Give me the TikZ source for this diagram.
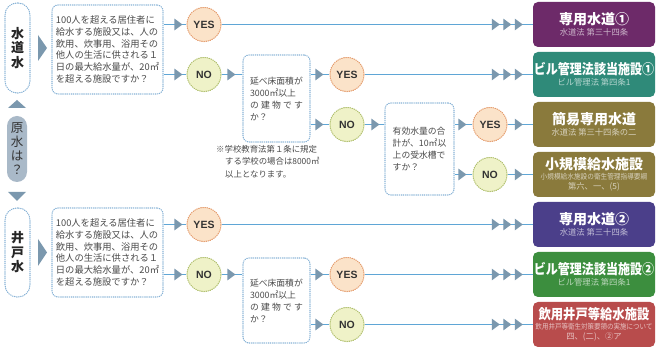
\documentclass[tikz,border=0pt]{standalone}
\usepackage{fontspec}
\setmainfont{Noto Sans CJK JP}
\newfontfamily\latin{Liberation Sans}
\usepackage{graphicx}
\usetikzlibrary{arrows.meta,decorations.markings}
\definecolor{linec}{HTML}{5FA6D6}
\definecolor{mkc}{HTML}{7B98AE}
\definecolor{dotc}{HTML}{86B2D6}
\definecolor{yesf}{HTML}{FBE3C9}
\definecolor{yesd}{HTML}{E49A6A}
\definecolor{nof}{HTML}{EFF2C8}
\definecolor{nod}{HTML}{AEBE6A}
\definecolor{pillc}{HTML}{A9B9C8}
\definecolor{txtc}{HTML}{4A4A4A}
\definecolor{cpur}{HTML}{6D2A69}
\definecolor{cteal}{HTML}{2F8A79}
\definecolor{colive}{HTML}{8A7A3C}
\definecolor{cindigo}{HTML}{4B3F8A}
\definecolor{cgreen}{HTML}{3C8E3E}
\definecolor{cred}{HTML}{B84C4C}
\newcommand{\tipmk}{\arrow[mkc]{Triangle[length=8pt,width=11.5pt]}}
\tikzset{
 conn/.style={draw=linec, line width=1.1pt},
 mk/.style={postaction={decorate,decoration={markings,mark=at position #1 with {\tipmk}}}},
 mkthree/.style={postaction={decorate,decoration={markings,
   mark=at position -10pt with {\tipmk},
   mark=at position -21.5pt with {\tipmk},
   mark=at position -33pt with {\tipmk}}}},
 dotb/.style={line width=1.1pt, dash pattern=on 0.6pt off 1.5pt, line cap=round},
 qbox/.style={dotb, draw=dotc, rounded corners=6pt, fill=white, text=txtc, align=left, inner sep=0pt},
 yesc/.style={circle, minimum size=34pt, inner sep=0pt, fill=yesf, draw=yesd, dotb,
   font=\latin\bfseries\fontsize{10.5}{12}\selectfont, text=black!80},
 noc/.style={circle, minimum size=34pt, inner sep=0pt, fill=nof, draw=nod, dotb,
   font=\latin\bfseries\fontsize{10.5}{12}\selectfont, text=black!80},
 rbox/.style={fill=#1, rounded corners=5pt, minimum width=122pt, minimum height=45pt, inner sep=0pt, text=white, align=center},
 pill/.style={dotb, draw=dotc, rounded corners=12pt, fill=white, minimum width=25pt, inner sep=0pt, align=center,
   font=\bfseries\fontsize{13}{14.5}\selectfont, text=black!85},
 qtext/.style={font=\fontsize{9.3}{11.8}\selectfont},
 stext/.style={font=\fontsize{8.8}{12}\selectfont},
}
\newcommand{\ttl}[2][1]{{\bfseries\fontsize{14}{15}\selectfont\scalebox{#1}[1]{#2}}}
\newcommand{\sbt}[3][1]{{\fontsize{8.3}{9}\selectfont\color{white!65!#2}\scalebox{#1}[1]{#3}}}
\begin{document}
\begin{tikzpicture}[x=1pt,y=-1pt]
\useasboundingbox (0,0) rectangle (656,347);
\fill[white] (0,0) rectangle (656,347);

% left column
\node[pill, minimum height=90pt] (p1) at (17.5,48) {水\\道\\水};
\fill[mkc] (38,35) -- (47,48) -- (38,61) -- cycle;
\fill[mkc] (8,108) -- (17,100) -- (26,108) -- cycle;
\node[fill=pillc, rounded corners=10pt, minimum width=20pt, minimum height=66pt, inner sep=0pt, align=center,
  font=\fontsize{12.5}{14}\selectfont, text=black!80] (p2) at (17,149) {原\\水\\は\\？};
\fill[mkc] (8,192) -- (17,201) -- (26,192) -- cycle;
\node[pill, minimum height=89pt] (p3) at (17.5,252.5) {井\\戸\\水};
\fill[mkc] (38,239) -- (47,252.5) -- (38,266) -- cycle;

% question boxes
\node[qbox, qtext, minimum width=111pt, minimum height=89pt] (q1) at (107.5,49.5)
 {100人を超える居住者に\\給水する施設又は、人の\\飲用、炊事用、浴用その\\他人の生活に供される１\\日の最大給水量が、20㎡\\を超える施設ですか？};
\node[qbox, stext, minimum width=67pt, minimum height=87pt] (q2) at (276.5,98.5)
 {延べ床面積が\\3000㎡以上\\\makebox[53pt][l]{の\hfill 建\hfill 物\hfill で\hfill す}\\か？};
\node[qbox, stext, minimum width=69pt, minimum height=92pt] (q3) at (419.5,149)
 {有効水量の合\\計が、10㎡以\\上の受水槽で\\すか？};
\node[qbox, qtext, minimum width=111pt, minimum height=89pt] (q4) at (107.5,252.5)
 {100人を超える居住者に\\給水する施設又は、人の\\飲用、炊事用、浴用その\\他人の生活に供される１\\日の最大給水量が、20㎡\\を超える施設ですか？};
\node[qbox, stext, minimum width=67pt, minimum height=85pt] (q5) at (276.5,300.5)
 {延べ床面積が\\3000㎡以上\\\makebox[53pt][l]{の\hfill 建\hfill 物\hfill で\hfill す}\\か？};

% footnote
\node[anchor=north west, align=left, inner sep=0pt, text=txtc, font=\fontsize{8.4}{12.5}\selectfont] (fn) at (216,145)
 {※学校教育法第１条に規定\\\hspace*{9pt}する学校の場合は8000㎡\\\hspace*{9pt}以上となります。};

% circles
\node[yesc] (yes1) at (204,24.5) {YES};
\node[noc]  (no1)  at (204,74.5) {NO};
\node[yesc] (yes2) at (347,74.5) {YES};
\node[noc]  (no2)  at (347,124.5) {NO};
\node[yesc] (yes3) at (490,124.5) {YES};
\node[noc]  (no3)  at (490,174.5) {NO};
\node[yesc] (yes4) at (204,224.5) {YES};
\node[noc]  (no4)  at (204,274.5) {NO};
\node[yesc] (yes5) at (347,274.5) {YES};
\node[noc]  (no5)  at (347,324.5) {NO};

% result boxes
\node[rbox=cpur] (r1) at (594,24.5) {\ttl{専用水道①}\\[-1pt]\sbt{cpur}{水道法\ 第三十四条}};
\node[rbox=cteal] (r2) at (594,74.5) {\ttl[0.86]{ビル管理法該当施設①}\\[-1pt]\sbt{cteal}{ビル管理法\ 第四条1}};
\node[rbox=colive] (r3) at (594,124.5) {\ttl{簡易専用水道}\\[-1pt]\sbt{colive}{水道法\ 第三十四条の二}};
\node[rbox=colive] (r4) at (594,174.5) {\ttl{小規模給水施設}\\[-2pt]\sbt[0.9]{colive}{\fontsize{7.4}{8}\selectfont 小規模給水施設の衛生管理指導要綱}\\[-2pt]\sbt{colive}{第六、一、(5)}};
\node[rbox=cindigo] (r5) at (594,224.5) {\ttl{専用水道②}\\[-1pt]\sbt{cindigo}{水道法\ 第三十四条}};
\node[rbox=cgreen] (r6) at (594,274.5) {\ttl[0.86]{ビル管理法該当施設②}\\[-1pt]\sbt{cgreen}{ビル管理法\ 第四条1}};
\node[rbox=cred] (r7) at (594,324.5) {\ttl[0.88]{飲用井戸等給水施設}\\[-2pt]\sbt[0.88]{cred}{\fontsize{7.4}{8}\selectfont 飲用井戸等衛生対策要領の実施について}\\[-2pt]\sbt{cred}{四、(二)、②ア}};

% connectors
\draw[conn, mk=-4pt] (q1.east |- yes1) -- (yes1.west);
\draw[conn, mk=-4pt] (q1.east |- no1) -- (no1.west);
\draw[conn, mkthree] (yes1.east) -- (yes1 -| r1.west);
\draw[conn, mk=-7pt] (no1.east) -- (no1 -| q2.west);
\draw[conn, mk=-6pt] (q2.east |- yes2) -- (yes2.west);
\draw[conn, mk=-6pt] (q2.east |- no2) -- (no2.west);
\draw[conn, mkthree] (yes2.east) -- (yes2 -| r2.west);
\draw[conn, mk=-5pt] (no2.east) -- (no2 -| q3.west);
\draw[conn, mk=-6pt] (q3.east |- yes3) -- (yes3.west);
\draw[conn, mk=-6pt] (q3.east |- no3) -- (no3.west);
\draw[conn, mk=-10pt] (yes3.east) -- (yes3 -| r3.west);
\draw[conn, mk=-10pt] (no3.east) -- (no3 -| r4.west);

\draw[conn, mk=-4pt] (q4.east |- yes4) -- (yes4.west);
\draw[conn, mk=-4pt] (q4.east |- no4) -- (no4.west);
\draw[conn, mkthree] (yes4.east) -- (yes4 -| r5.west);
\draw[conn, mk=-7pt] (no4.east) -- (no4 -| q5.west);
\draw[conn, mk=-6pt] (q5.east |- yes5) -- (yes5.west);
\draw[conn, mk=-6pt] (q5.east |- no5) -- (no5.west);
\draw[conn, mkthree] (yes5.east) -- (yes5 -| r6.west);
\draw[conn, mkthree] (no5.east) -- (no5 -| r7.west);
\end{tikzpicture}
\end{document}
